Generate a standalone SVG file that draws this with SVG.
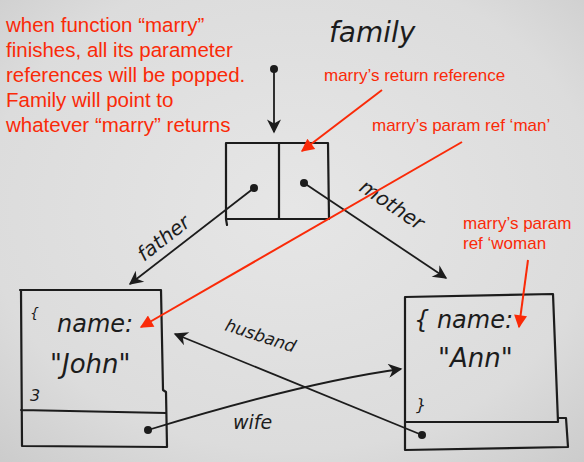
<svg xmlns="http://www.w3.org/2000/svg" width="584" height="462" viewBox="0 0 584 462">
<defs>
<radialGradient id="paper" cx="50%" cy="45%" r="75%">
<stop offset="0" stop-color="#e6e6e6"/>
<stop offset="0.7" stop-color="#dcdcdc"/>
<stop offset="1" stop-color="#cbcbcb"/>
</radialGradient>
<marker id="red" viewBox="0 0 10 10" refX="9" refY="5" markerWidth="15" markerHeight="13" markerUnits="userSpaceOnUse" orient="auto">
<path d="M0,0 L10,5 L0,10 z" fill="#fa2a08"/>
</marker>
<marker id="inkhead" viewBox="0 0 10 10" refX="9" refY="5" markerWidth="16" markerHeight="14" markerUnits="userSpaceOnUse" orient="auto">
<path d="M0,0 L10,5 L0,10 L3,5 z" fill="#1c1c1c"/>
</marker>
</defs>
<style>
.ink{fill:none;stroke:#1c1c1c;stroke-width:2.2;stroke-linecap:round;stroke-linejoin:round}
.line{fill:none;stroke:#1c1c1c;stroke-width:1.8}
.redl{fill:none;stroke:#fa2a08;stroke-width:2}
.dot{fill:#1c1c1c}
.hand{font-family:"DejaVu Sans",sans-serif;font-style:italic;fill:#1c1c1c}
.note{font-family:"Liberation Sans",Arial,sans-serif;fill:#fa2a08}
</style>
<rect width="584" height="462" fill="url(#paper)"/>

<g id="explanation" class="note" font-size="20.5">
<text x="6" y="32">when function “marry”</text>
<text x="6" y="57">finishes, all its parameter</text>
<text x="6" y="82">references will be popped.</text>
<text x="6" y="107">Family will point to</text>
<text x="6" y="132">whatever “marry” returns</text>
</g>

<g id="family-label">
<text class="hand" x="329" y="42" font-size="28">family</text>
</g>

<g id="family">
<path class="ink" d="M226,143 L328,143 L329,219 L226,219 L227,225 M226,143 L226,219 M279,144 L279,219"/>
<circle class="dot" cx="274" cy="69" r="4"/>
<circle class="dot" cx="254" cy="188" r="4"/>
<circle class="dot" cx="304" cy="183" r="4"/>
</g>

<g id="john">
<path class="ink" d="M20,290 L161,290 L163,390 L166,392 L167,447 L22,446 L21,290 M21,410 L166,413"/>
<text class="hand" x="30" y="318" font-size="14">{</text>
<text class="hand" x="57" y="332" font-size="24">name:</text>
<text class="hand" x="50" y="373" font-size="26">"John"</text>
<text class="hand" x="30" y="401" font-size="16">3</text>
<circle class="dot" cx="148" cy="430" r="4"/>
</g>

<g id="ann">
<path class="ink" d="M405,297 L553,294 L558,422 L405,422 L405,297 M405,422 L405,450 L568,447 L566,418 L558,418"/>
<text class="hand" x="414" y="328" font-size="24">{ name:</text>
<text class="hand" x="438" y="367" font-size="26">"Ann"</text>
<text class="hand" x="416" y="410" font-size="16">}</text>
<circle class="dot" cx="422" cy="435" r="4"/>
</g>

<g id="connectors">
<path class="line" d="M274,69 L274,132" marker-end="url(#inkhead)"/>
<path class="line" d="M254,188 L130,284" marker-end="url(#inkhead)"/>
<path class="line" d="M304,183 L446,278" marker-end="url(#inkhead)"/>
<path class="line" d="M422,435 L175,334" marker-end="url(#inkhead)"/>
<path class="line" d="M148,430 C230,405 320,380 401,369" marker-end="url(#inkhead)"/>
<text class="hand" font-size="20" transform="translate(144,262) rotate(-38)">father</text>
<text class="hand" font-size="20" transform="translate(358,190) rotate(34)">mother</text>
<text class="hand" font-size="17" transform="translate(224,330) rotate(18)">husband</text>
<text class="hand" x="233" y="429" font-size="19">wife</text>
</g>

<g id="annotations" class="note" font-size="17">
<text x="324" y="81">marry’s return reference</text>
<path class="redl" d="M382,90 L302,151" marker-end="url(#red)"/>
<text x="372" y="131">marry’s param ref ‘man’</text>
<path class="redl" d="M462,142 L141,327" marker-end="url(#red)"/>
<text x="463" y="229">marry’s param</text>
<text x="463" y="249">ref ‘woman</text>
<path class="redl" d="M528,260 L519,327" marker-end="url(#red)"/>
</g>
</svg>
